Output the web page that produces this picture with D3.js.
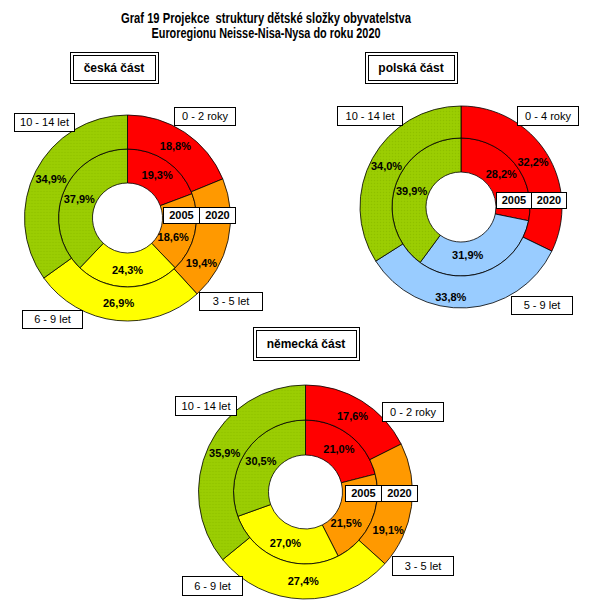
<!DOCTYPE html>
<html>
<head>
<meta charset="utf-8">
<script src="https://cdn.jsdelivr.net/npm/d3@7"></script>
<style>
  body { margin: 0; background: #fff; }
  svg { display: block; }
  text.title { white-space: pre; }
</style>
</head>
<body>
<div id="chart"></div>
<script>
// --- data ---
const titleLines = ["Graf 19 Projekce  struktury dětské složky obyvatelstva", "Euroregionu Neisse-Nisa-Nysa do roku 2020"];
const years = ["2005", "2020"];

const czCategories = ["0 - 2 roky", "3 - 5 let", "6 - 9 let", "10 - 14 let"];
const cz2005 = [19.3, 18.6, 24.3, 37.9];
const cz2020 = [18.8, 19.4, 26.9, 34.9];

const plCategories = ["0 - 4 roky", "5 - 9 let", "10 - 14 let"];
const pl2005 = [28.2, 31.9, 39.9];
const pl2020 = [32.2, 33.8, 34.0];

const deCategories = ["0 - 2 roky", "3 - 5 let", "6 - 9 let", "10 - 14 let"];
const de2005 = [21.0, 21.5, 27.0, 30.5];
const de2020 = [17.6, 19.1, 27.4, 35.9];

const colors = {
  "0 - 2 roky": "#ff0000",
  "0 - 4 roky": "#ff0000",
  "3 - 5 let": "#ff9900",
  "5 - 9 let": "#99ccff",
  "6 - 9 let": "#ffff00",
  "10 - 14 let": "url(#greenDots)"
};

// --- layout ---
const width = 609, height = 609;
// nudge: [ring, slice index, dx, dy] - labels moved off the year boxes like in the original
const panels = [
  {name: "česká část", cats: czCategories, inner: cz2005, outer: cz2020,
   cx: 127.5, cy: 218, r: [35, 69, 103],
   head: [70, 52, 88, 31],
   boxes: [[174, 107, 61, 18], [199, 292, 63, 18], [22, 310, 60, 18], [14, 113, 60, 18]],
   yearBox: [163, 207, 36, 16],
   nudge: [[0, 1, -5, 8], [1, 1, -10, 26]]},
  {name: "polská část", cats: plCategories, inner: pl2005, outer: pl2020,
   cx: 461, cy: 207, r: [35, 69, 101],
   head: [365, 52, 92, 31],
   boxes: [[517, 106, 61, 19], [511, 296, 61, 18], [337, 106, 65, 19]],
   yearBox: [496, 192, 35, 16],
   nudge: [[0, 1, -12, 0], [1, 1, -15, 5]]},
  {name: "německá část", cats: deCategories, inner: de2005, outer: de2020,
   cx: 305.5, cy: 492, r: [37, 72, 107],
   head: [253, 327, 106, 33],
   boxes: [[382, 402, 61, 19], [392, 556, 61, 19], [182, 576, 60, 19], [175, 396, 61, 19]],
   yearBox: [345, 485, 36, 16],
   nudge: [[0, 1, -9, 9], [1, 1, -6, 26]]}
];

const fmt = v => d3.format(".1f")(v).replace(".", ",") + "%";

const svg = d3.select("#chart")
  .append("svg")
  .attr("width", width)
  .attr("height", height);

// green dotted fill like the original
const pat = svg.append("defs").append("pattern")
  .attr("id", "greenDots")
  .attr("patternUnits", "userSpaceOnUse")
  .attr("width", 3).attr("height", 3);
pat.append("rect").attr("width", 3).attr("height", 3).attr("fill", "#99cc00");
pat.append("rect").attr("x", 0).attr("y", 0).attr("width", 1).attr("height", 1).attr("fill", "#8fbf00");
pat.append("rect").attr("x", 1.5).attr("y", 1.5).attr("width", 1).attr("height", 1).attr("fill", "#a3d10a");

// title
const titleWidths = [290, 229];
svg.selectAll("text.title")
  .data(titleLines)
  .enter()
  .append("text")
  .attr("class", "title")
  .attr("x", 266)
  .attr("y", (d, i) => 22.5 + i * 15.5)
  .attr("text-anchor", "middle")
  .attr("font-family", "'Liberation Sans', Arial, sans-serif")
  .attr("font-weight", "bold")
  .attr("font-size", 14)
  .attr("textLength", (d, i) => titleWidths[i])
  .attr("lengthAdjust", "spacingAndGlyphs")
  .text(d => d);

const pie = d3.pie().sort(null).value(d => d);

panels.forEach(p => {
  const g = svg.append("g").attr("transform", `translate(${p.cx},${p.cy})`);

  const rings = [
    {vals: p.inner, r0: p.r[0], r1: p.r[1]},
    {vals: p.outer, r0: p.r[1], r1: p.r[2]}
  ];

  rings.forEach((ring, ri) => {
    const arc = d3.arc().innerRadius(ring.r0).outerRadius(ring.r1);
    const arcs = pie(ring.vals);
    g.selectAll(null)
      .data(arcs)
      .enter()
      .append("path")
      .attr("d", arc)
      .attr("fill", (d, i) => colors[p.cats[i]])
      .attr("stroke", "#000")
      .attr("stroke-width", 0.8);
    g.selectAll(null)
      .data(arcs)
      .enter()
      .append("text")
      .attr("transform", (d, i) => {
        const c = arc.centroid(d);
        const n = p.nudge.find(m => m[0] === ri && m[1] === i);
        if (n) { c[0] += n[2]; c[1] += n[3]; }
        return `translate(${c})`;
      })
      .attr("dy", "0.35em")
      .attr("text-anchor", "middle")
      .attr("font-family", "'Liberation Sans', Arial, sans-serif")
      .attr("font-weight", "bold")
      .attr("font-size", 11)
      .text(d => fmt(d.value));
  });

  // category label boxes
  p.cats.forEach((c, i) => {
    const b = p.boxes[i];
    svg.append("rect")
      .attr("x", b[0] + 0.5).attr("y", b[1] + 0.5)
      .attr("width", b[2]).attr("height", b[3])
      .attr("fill", "#fff").attr("stroke", "#000").attr("stroke-width", 1);
    svg.append("text")
      .attr("x", b[0] + b[2] / 2 + 0.5).attr("y", b[1] + b[3] / 2 + 0.5)
      .attr("dy", "0.35em")
      .attr("text-anchor", "middle")
      .attr("font-family", "'Liberation Sans', Arial, sans-serif")
      .attr("font-size", 11)
      .text(c);
  });

  // year boxes (2005 | 2020)
  years.forEach((y, i) => {
    const b = p.yearBox;
    const x = b[0] + i * b[2];
    svg.append("rect")
      .attr("x", x + 0.5).attr("y", b[1] + 0.5)
      .attr("width", b[2]).attr("height", b[3])
      .attr("fill", "#fff").attr("stroke", "#000").attr("stroke-width", 1);
    svg.append("text")
      .attr("x", x + b[2] / 2 + 0.5).attr("y", b[1] + b[3] / 2 + 0.5)
      .attr("dy", "0.35em")
      .attr("text-anchor", "middle")
      .attr("font-family", "'Liberation Sans', Arial, sans-serif")
      .attr("font-weight", "bold")
      .attr("font-size", 11)
      .text(y);
  });

  // region heading with double border
  const h = p.head;
  svg.append("rect")
    .attr("x", h[0] + 0.5).attr("y", h[1] + 0.5)
    .attr("width", h[2]).attr("height", h[3])
    .attr("fill", "#fff").attr("stroke", "#000");
  svg.append("rect")
    .attr("x", h[0] + 3.5).attr("y", h[1] + 3.5)
    .attr("width", h[2] - 6).attr("height", h[3] - 6)
    .attr("fill", "none").attr("stroke", "#000");
  svg.append("text")
    .attr("x", h[0] + h[2] / 2).attr("y", h[1] + h[3] / 2)
    .attr("dy", "0.35em")
    .attr("text-anchor", "middle")
    .attr("font-family", "'Liberation Sans', Arial, sans-serif")
    .attr("font-weight", "bold")
    .attr("font-size", 12)
    .text(p.name);
});
</script>
</body>
</html>
